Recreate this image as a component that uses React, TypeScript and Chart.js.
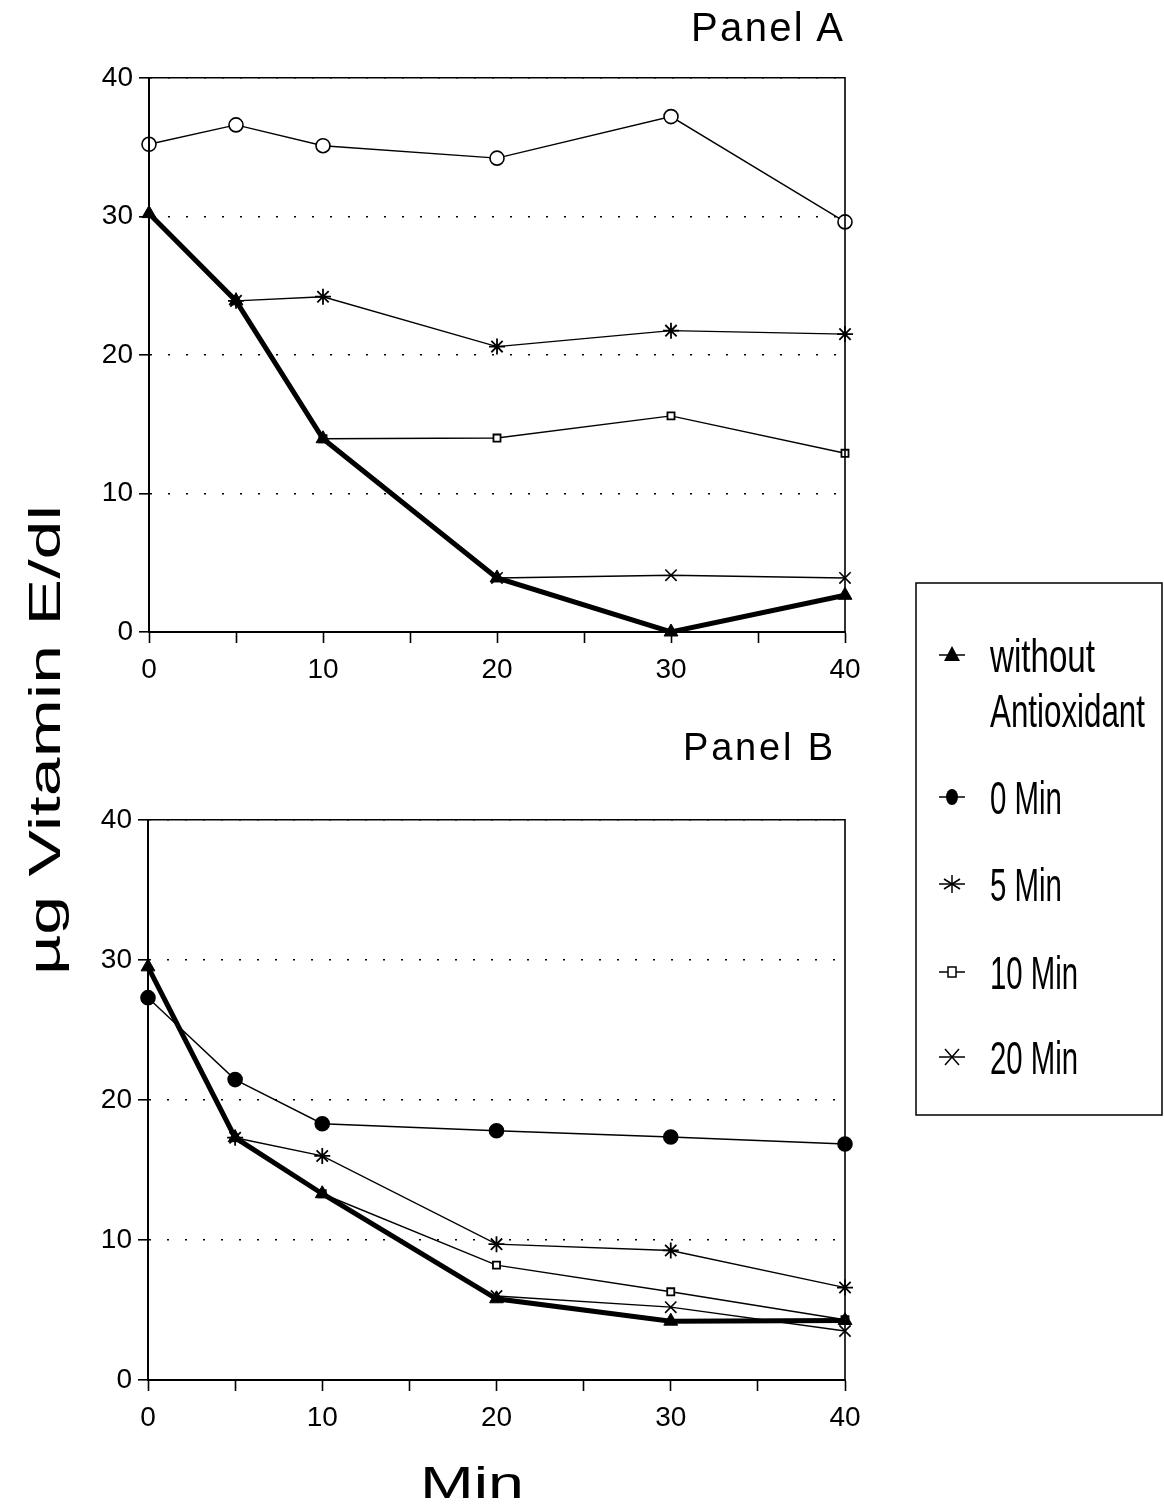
import React, { useEffect, useRef } from "react";
import { Chart, registerables } from "chart.js";

Chart.register(...registerables);

// ---------- data ----------
const timesMin = [0, 5, 10, 20, 30, 40];
const yTickValues = [0, 10, 20, 30, 40];
const xLabelValues = [0, 10, 20, 30, 40];
const legendLabels = ["without", "Antioxidant", "0 Min", "5 Min", "10 Min", "20 Min"];

// Panel A
const panelAWithout = [30.2, 23.9, 13.95, 3.9, 0, 2.65];
const panelA0Min = [35.2, 36.6, 35.1, 34.2, 37.2, 29.6];
const panelA5Min = [null, 23.9, 24.2, 20.6, 21.75, 21.5];
const panelA10Min = [null, null, 13.95, 14.0, 15.6, 12.9];
const panelA20Min = [null, null, null, 3.9, 4.1, 3.9];

// Panel B
const panelBWithout = [29.5, 17.3, 13.3, 5.8, 4.2, 4.25];
const panelB0Min = [27.3, 21.45, 18.3, 17.8, 17.35, 16.85];
const panelB5Min = [null, 17.3, 16.0, 9.7, 9.25, 6.6];
const panelB10Min = [null, null, 13.3, 8.2, 6.3, 4.3];
const panelB20Min = [null, null, null, 6.0, 5.2, 3.5];

type Val = number | null;

function pts(vals: Val[]) {
  return timesMin
    .map((t, i) => ({ x: t, y: vals[i] }))
    .filter((p) => p.y !== null);
}

const FONT = "'Liberation Sans', Arial, sans-serif";
const NARROW = "'Liberation Sans Narrow', 'Liberation Sans', Arial, sans-serif";

const boxPlugin = {
  id: "boxBorder",
  afterDraw(chart: any) {
    const { ctx, chartArea: a } = chart;
    ctx.save();
    ctx.setLineDash([]);
    ctx.strokeStyle = "#000";
    ctx.lineWidth = 1.6;
    ctx.beginPath();
    ctx.moveTo(a.left, a.top);
    ctx.lineTo(a.right, a.top);
    ctx.lineTo(a.right, a.bottom);
    ctx.stroke();
    ctx.lineWidth = 2;
    ctx.beginPath();
    ctx.moveTo(a.left, a.top);
    ctx.lineTo(a.left, a.bottom);
    ctx.lineTo(a.right, a.bottom);
    ctx.stroke();
    ctx.restore();
  },
};

function buildDatasets(
  without: Val[],
  m0: Val[],
  m5: Val[],
  m10: Val[],
  m20: Val[],
  circleFilled: boolean
) {
  const thin = { borderColor: "#000", borderWidth: 1.4, tension: 0, clip: false as any };
  return [
    {
      label: "without Antioxidant",
      data: pts(without),
      borderColor: "#000",
      borderWidth: 5,
      tension: 0,
      clip: false as any,
      pointStyle: "triangle",
      pointRadius: 8,
      pointBackgroundColor: "#000",
      pointBorderColor: "#000",
      pointBorderWidth: 1,
    },
    {
      label: "0 Min",
      data: pts(m0),
      ...thin,
      pointStyle: "circle",
      pointRadius: 7,
      pointBackgroundColor: circleFilled ? "#000" : "#fff",
      pointBorderColor: "#000",
      pointBorderWidth: 1.6,
    },
    {
      label: "5 Min",
      data: pts(m5),
      ...thin,
      pointStyle: "star",
      pointRadius: 8,
      pointBackgroundColor: "#000",
      pointBorderColor: "#000",
      pointBorderWidth: 1.8,
    },
    {
      label: "10 Min",
      data: pts(m10),
      ...thin,
      pointStyle: "rect",
      pointRadius: 5,
      pointBackgroundColor: "#fff",
      pointBorderColor: "#000",
      pointBorderWidth: 1.8,
    },
    {
      label: "20 Min",
      data: pts(m20),
      ...thin,
      pointStyle: "crossRot",
      pointRadius: 8,
      pointBackgroundColor: "#000",
      pointBorderColor: "#000",
      pointBorderWidth: 1.6,
    },
  ];
}

function makeOptions(yAxisWidth: number, xAxisHeight: number, rightPad: number, topPad: number) {
  return {
    responsive: false,
    animation: false as const,
    layout: { padding: { left: 0, right: rightPad, top: topPad, bottom: 0 } },
    plugins: { legend: { display: false }, tooltip: { enabled: false } },
    scales: {
      x: {
        type: "linear" as const,
        min: 0,
        max: 40,
        afterFit: (s: any) => {
          s.height = xAxisHeight;
        },
        afterBuildTicks: (s: any) => {
          s.ticks = [0, 5, 10, 15, 20, 25, 30, 35, 40].map((v) => ({ value: v }));
        },
        ticks: {
          autoSkip: false,
          maxRotation: 0,
          color: "#000",
          padding: 10,
          font: { family: FONT, size: 28 },
          callback: (v: any) => (xLabelValues.includes(Number(v)) ? String(v) : ""),
        },
        grid: {
          drawOnChartArea: false,
          drawTicks: true,
          tickLength: 11,
          tickWidth: 1.6,
          tickColor: "#000",
          color: "#000",
        },
        border: { display: true, color: "#000", width: 2 },
      },
      y: {
        type: "linear" as const,
        min: 0,
        max: 40,
        afterFit: (s: any) => {
          s.width = yAxisWidth;
        },
        afterBuildTicks: (s: any) => {
          s.ticks = yTickValues.map((v) => ({ value: v }));
        },
        ticks: {
          color: "#000",
          padding: 6,
          font: { family: FONT, size: 28 },
        },
        grid: {
          drawOnChartArea: true,
          drawTicks: true,
          tickLength: 10,
          tickWidth: 1.6,
          tickColor: "#000",
          tickBorderDash: [],
          color: "#000",
          lineWidth: 1.6,
        },
        border: { display: true, color: "#000", width: 2, dash: [2, 16], dashOffset: 0 },
      },
    },
  };
}

function Panel(props: {
  left: number;
  top: number;
  width: number;
  height: number;
  yAxisWidth: number;
  xAxisHeight: number;
  rightPad: number;
  topPad: number;
  data: Val[][];
  filled: boolean;
}) {
  const ref = useRef<HTMLCanvasElement | null>(null);
  useEffect(() => {
    if (!ref.current) return;
    const [w, a, b, c, d] = props.data;
    const chart = new Chart(ref.current, {
      type: "line",
      data: { datasets: buildDatasets(w, a, b, c, d, props.filled) as any },
      options: makeOptions(props.yAxisWidth, props.xAxisHeight, props.rightPad, props.topPad) as any,
      plugins: [boxPlugin],
    });
    return () => chart.destroy();
  }, []);
  return (
    <canvas
      ref={ref}
      width={props.width}
      height={props.height}
      style={{
        position: "absolute",
        left: props.left,
        top: props.top,
        width: props.width,
        height: props.height,
      }}
    />
  );
}

function LegendMarker({ kind, cx, cy }: { kind: string; cx: number; cy: number }) {
  const line = <line x1={cx - 13} y1={cy} x2={cx + 13} y2={cy} stroke="#000" strokeWidth={1.5} />;
  let m: any = null;
  if (kind === "triangle") {
    m = <polygon points={`${cx},${cy - 9} ${cx - 8},${cy + 6} ${cx + 8},${cy + 6}`} fill="#000" />;
  } else if (kind === "circle") {
    m = <ellipse cx={cx} cy={cy} rx={6} ry={8} fill="#000" />;
  } else if (kind === "star") {
    m = (
      <g stroke="#000" strokeWidth={1.5}>
        <line x1={cx} y1={cy - 9} x2={cx} y2={cy + 9} />
        <line x1={cx - 8} y1={cy - 5} x2={cx + 8} y2={cy + 5} />
        <line x1={cx - 8} y1={cy + 5} x2={cx + 8} y2={cy - 5} />
      </g>
    );
  } else if (kind === "rect") {
    m = <rect x={cx - 4} y={cy - 5} width={8} height={10} fill="#fff" stroke="#000" strokeWidth={1.5} />;
  } else if (kind === "cross") {
    m = (
      <g stroke="#000" strokeWidth={1.5}>
        <line x1={cx - 7} y1={cy - 8} x2={cx + 7} y2={cy + 8} />
        <line x1={cx - 7} y1={cy + 8} x2={cx + 7} y2={cy - 8} />
      </g>
    );
  }
  return (
    <g>
      {line}
      {m}
    </g>
  );
}

export default function App() {
  const legendRows = [
    { kind: "triangle", cy: 655, texts: [legendLabels[0], legendLabels[1]], lens: [105, 155] },
    { kind: "circle", cy: 797, texts: [legendLabels[2]], lens: [72] },
    { kind: "star", cy: 884, texts: [legendLabels[3]], lens: [72] },
    { kind: "rect", cy: 972, texts: [legendLabels[4]], lens: [88] },
    { kind: "cross", cy: 1057, texts: [legendLabels[5]], lens: [88] },
  ];
  return (
    <div style={{ position: "absolute", left: 0, top: 0, width: 1164, height: 1505, background: "#fff" }}>
      <Panel
        left={60}
        top={55}
        width={840}
        height={657}
        yAxisWidth={89}
        xAxisHeight={80}
        rightPad={55}
        topPad={18}
        data={[panelAWithout, panelA0Min, panelA5Min, panelA10Min, panelA20Min]}
        filled={false}
      />
      <Panel
        left={60}
        top={797}
        width={840}
        height={660}
        yAxisWidth={88}
        xAxisHeight={77}
        rightPad={55}
        topPad={18}
        data={[panelBWithout, panelB0Min, panelB5Min, panelB10Min, panelB20Min]}
        filled={true}
      />
      <svg
        width={1164}
        height={1505}
        style={{ position: "absolute", left: 0, top: 0, pointerEvents: "none" }}
      >
        <text x={691} y={41} fontFamily={FONT} fontSize={40} textLength={152} lengthAdjust="spacing" fill="#000">
          Panel A
        </text>
        <text x={683} y={760} fontFamily={FONT} fontSize={38} textLength={150} lengthAdjust="spacing" fill="#000">
          Panel B
        </text>
        <text x={420} y={1498} fontFamily={FONT} fontSize={44} textLength={104} lengthAdjust="spacingAndGlyphs" fill="#000">
          Min
        </text>
        <g transform="translate(60, 740) rotate(-90)">
          <text
            x={0}
            y={0}
            textAnchor="middle"
            fontFamily={FONT}
            fontSize={44}
            textLength={470}
            lengthAdjust="spacingAndGlyphs"
            fill="#000"
          >
            µg Vitamin E/dl
          </text>
        </g>
        <rect x={916} y={583} width={246} height={532} fill="none" stroke="#000" strokeWidth={1.5} />
        {legendRows.map((r, i) => (
          <g key={i}>
            <LegendMarker kind={r.kind} cx={952} cy={r.cy} />
            {r.texts.map((t, j) => (
              <text
                key={j}
                x={990}
                y={r.cy + 17 + j * 55}
                fontFamily={NARROW}
                fontSize={46}
                textLength={r.lens[j]}
                lengthAdjust="spacingAndGlyphs"
                fill="#000"
              >
                {t}
              </text>
            ))}
          </g>
        ))}
      </svg>
    </div>
  );
}
